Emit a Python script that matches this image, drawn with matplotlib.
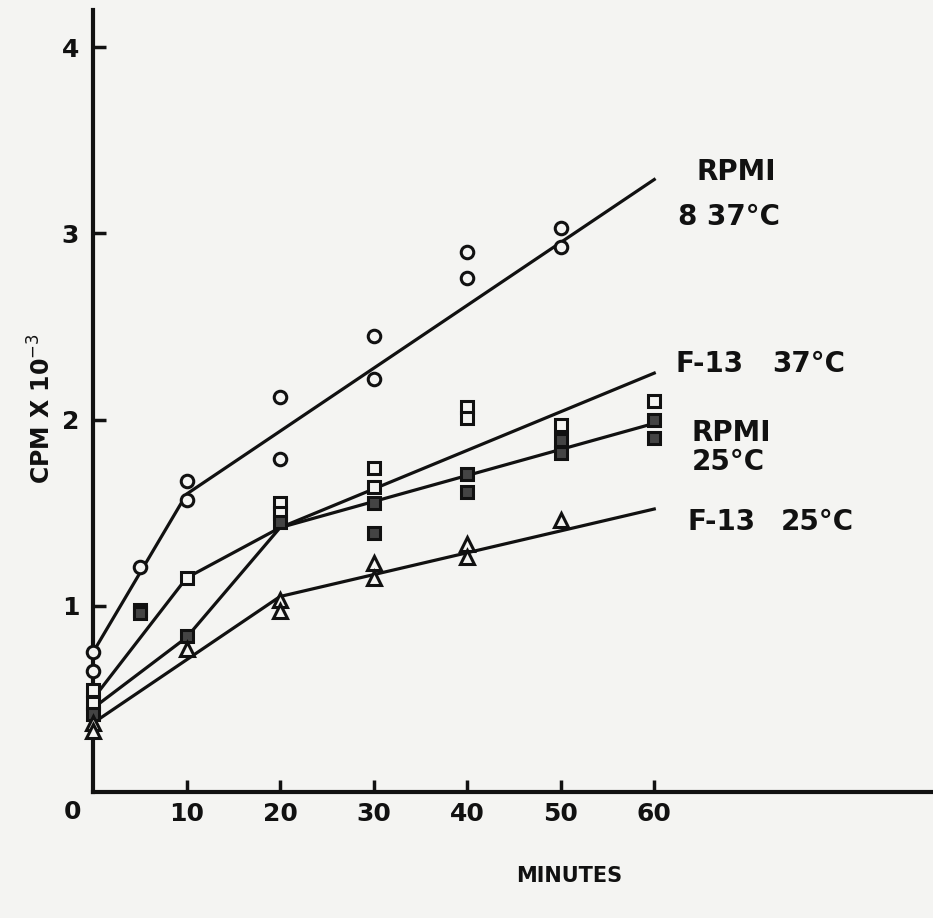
import matplotlib.pyplot as plt

# uptake over time
rpmi37_x = [0, 0, 5, 10, 10, 20, 20, 30, 30, 40, 40, 50, 50]
rpmi37_y = [0.75, 0.65, 1.21, 1.67, 1.57, 2.12, 1.79, 2.45, 2.22, 2.90, 2.76, 3.03, 2.93]
rpmi37_line_x = [0, 10, 60]
rpmi37_line_y = [0.75, 1.60, 3.29]

f13_37_x = [0, 0, 5, 10, 20, 20, 30, 30, 40, 40, 50, 60]
f13_37_y = [0.55, 0.48, 0.98, 1.15, 1.55, 1.50, 1.74, 1.64, 2.07, 2.01, 1.97, 2.10]
f13_37_line_x = [0, 10, 20, 60]
f13_37_line_y = [0.45, 0.83, 1.42, 2.25]

rpmi25_x = [0, 5, 10, 20, 30, 30, 40, 40, 50, 50, 60, 60]
rpmi25_y = [0.42, 0.96, 0.84, 1.45, 1.55, 1.39, 1.71, 1.61, 1.89, 1.82, 2.00, 1.90]
rpmi25_line_x = [0, 10, 20, 60]
rpmi25_line_y = [0.50, 1.15, 1.42, 1.98]

f13_25_x = [0, 0, 10, 20, 20, 30, 30, 40, 40, 50]
f13_25_y = [0.37, 0.33, 0.77, 1.03, 0.97, 1.23, 1.15, 1.33, 1.26, 1.46]
f13_25_line_x = [0, 20, 60]
f13_25_line_y = [0.37, 1.05, 1.52]

x_ticks = [10, 20, 30, 40, 50, 60]
y_ticks = [1, 2, 3, 4]

bg = "#f4f4f2"
ink = "#111111"
plt.rcParams["font.family"] = "DejaVu Sans"

fig = plt.figure(figsize=(9.33, 9.18), dpi=100, facecolor=bg)
ax = fig.add_axes([0.0997, 0.1373, 0.9003, 0.8517])
ax.set_facecolor(bg)

lw = 2.3
for lx, ly in [(rpmi37_line_x, rpmi37_line_y), (f13_37_line_x, f13_37_line_y),
               (rpmi25_line_x, rpmi25_line_y), (f13_25_line_x, f13_25_line_y)]:
    ax.plot(lx, ly, color=ink, lw=lw, zorder=2, clip_on=False)

mk = dict(ls="none", mec=ink, mew=2.2, zorder=3, clip_on=False)
ax.plot(rpmi37_x, rpmi37_y, "o", ms=9, mfc=bg, **mk)
ax.plot(f13_37_x, f13_37_y, "s", ms=9, mfc=bg, **mk)
ax.plot(rpmi25_x, rpmi25_y, "s", ms=9, mfc="#444444", **mk)
ax.plot(f13_25_x, f13_25_y, "^", ms=10, mfc=bg, **mk)

ax.set_xlim(0, 89.8)
ax.set_ylim(0, 4.2)
for s in ["top", "right"]:
    ax.spines[s].set_visible(False)
for s in ["left", "bottom"]:
    ax.spines[s].set_linewidth(3)
    ax.spines[s].set_color(ink)

fs = 18
ax.set_xticks(x_ticks)
ax.set_xticklabels([str(t) for t in x_ticks], fontsize=fs, fontweight="bold", color=ink)
ax.set_yticks(y_ticks)
ax.set_yticklabels([str(t) for t in y_ticks], fontsize=fs, fontweight="bold", color=ink)
ax.tick_params(direction="in", length=9, width=2.5, color=ink)
ax.tick_params(axis="x", pad=7)
ax.tick_params(axis="y", pad=10)
ax.text(-2.2, -0.11, "0", fontsize=fs, fontweight="bold", color=ink,
        ha="center", va="center")

ax.set_ylabel("CPM X 10$^{-3}$", fontsize=17, fontweight="bold", color=ink)
ax.yaxis.set_label_coords(-0.044, 0.49)
ax.set_xlabel("MINUTES", fontsize=15, fontweight="bold", color=ink)
ax.xaxis.set_label_coords(0.567, -0.095)

lab = dict(fontsize=20, fontweight="bold", color=ink, va="center", ha="left")
ax.text(64.5, 3.33, "RPMI", **lab)
ax.text(62.5, 3.09, "8 37°C", **lab)
ax.text(62.3, 2.30, "F-13", **lab)
ax.text(72.6, 2.30, "37°C", **lab)
ax.text(64.0, 1.93, "RPMI", **lab)
ax.text(64.0, 1.77, "25°C", **lab)
ax.text(63.6, 1.45, "F-13", **lab)
ax.text(73.5, 1.45, "25°C", **lab)

fig.savefig("out.png", dpi=100, facecolor=bg)
